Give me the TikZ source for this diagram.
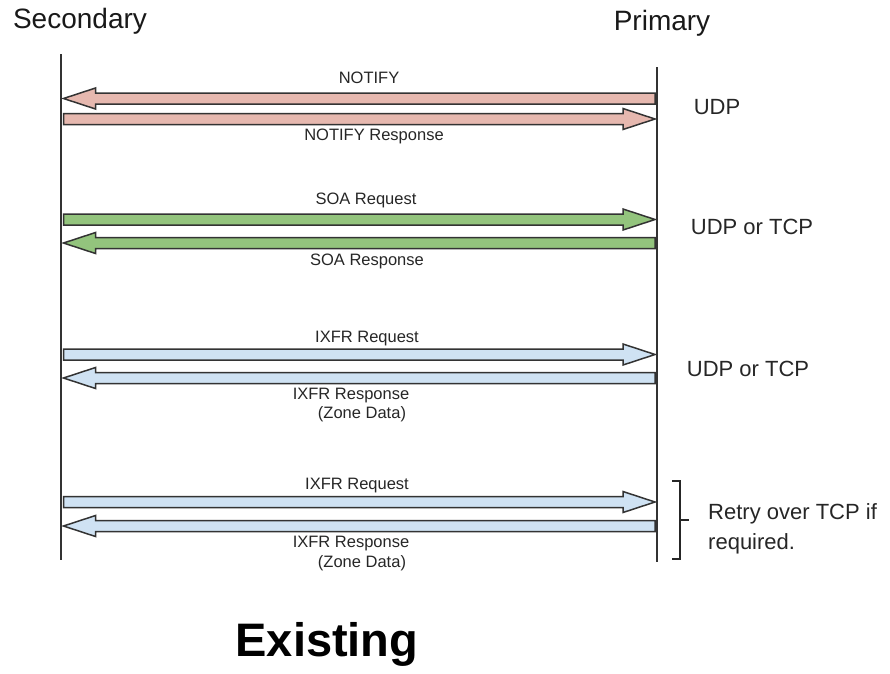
\documentclass[tikz,border=0pt]{standalone}
\usepackage{fontspec}
\setmainfont{Liberation Sans}
\usetikzlibrary{calc}

\definecolor{notifypink}{HTML}{E6B8AF}
\definecolor{soagreen}{HTML}{93C47D}
\definecolor{ixfrblue}{HTML}{CFE2F3}
\definecolor{edgegray}{HTML}{333333}

\tikzset{
  lifeline/.style={draw=edgegray,line width=1.4pt},
  msg/.style={draw=edgegray,line width=1.5pt,line join=miter},
  lbl/.style={font=\fontsize{16.5}{19}\selectfont,text=black!85,inner sep=0pt},
  side/.style={font=\fontsize{22}{26}\selectfont,text=black!85,inner sep=0pt},
  role/.style={font=\fontsize{28}{32}\selectfont,text=black!90,inner sep=0pt,anchor=base}
}

% block arrow between two points on the lifelines
\newcommand{\blockarrow}[3]{%
  \draw[msg,#1] let \p1=(#2), \p2=(#3), \n1={ifthenelse(\x2>\x1,1,-1)} in
    (\x1,\y1+5.5pt) -- (\x2-\n1*32pt,\y2+5.5pt) -- (\x2-\n1*32pt,\y2+10.5pt) -- (\x2,\y2)
    -- (\x2-\n1*32pt,\y2-10.5pt) -- (\x2-\n1*32pt,\y2-5.5pt) -- (\x1,\y1-5.5pt) -- cycle;}

\begin{document}
\begin{tikzpicture}[x=1pt,y=-1pt]
  \useasboundingbox (0,0) rectangle (890,673);

  % roles
  \node[role] (secondary) at (80,28) {Secondary};
  \node[role] (primary) at (662,30) {Primary};
  \coordinate (stop) at (61,54);
  \coordinate (sbot) at (61,560);
  \coordinate (ptop) at (657,67);
  \coordinate (pbot) at (657,562);
  \draw[lifeline] (stop) -- (sbot);
  \draw[lifeline] (ptop) -- (pbot);

  % message ends on the lifelines
  \foreach \i/\y in {1/98.5,2/119,3/219.5,4/243,5/354.5,6/378,7/502,8/526}{
    \coordinate (s\i) at (63.5,\y);
    \coordinate (p\i) at (655,\y);
  }

  % NOTIFY
  \blockarrow{fill=notifypink}{p1}{s1}
  \blockarrow{fill=notifypink}{s2}{p2}
  \node[lbl] (notify) at (369,78) {NOTIFY};
  \node[lbl] (notifyresp) at (374,136) {NOTIFY Response};
  \node[side] (udp) at (717,107) {UDP};

  % SOA
  \blockarrow{fill=soagreen}{s3}{p3}
  \blockarrow{fill=soagreen}{p4}{s4}
  \node[lbl] (soareq) at (366,200) {SOA Request};
  \node[lbl] (soaresp) at (367,261) {SOA Response};
  \node[side] (soaproto) at (752,227) {UDP or TCP};

  % IXFR
  \blockarrow{fill=ixfrblue}{s5}{p5}
  \blockarrow{fill=ixfrblue}{p6}{s6}
  \node[lbl] (ixfrreq) at (367,339) {IXFR Request};
  \node[lbl] (ixfrresp) at (351,396) {IXFR Response};
  \node[lbl] (ixfrdata) at (362,414) {(Zone Data)};
  \node[side] (ixfrproto) at (748,369) {UDP or TCP};

  % IXFR retry
  \blockarrow{fill=ixfrblue}{s7}{p7}
  \blockarrow{fill=ixfrblue}{p8}{s8}
  \node[lbl] (retryreq) at (357,486) {IXFR Request};
  \node[lbl] (retryresp) at (351,544) {IXFR Response};
  \node[lbl] (retrydata) at (362,563) {(Zone Data)};

  \draw[draw=black!85,line width=1.4pt] (672,481) -- (680,481) -- (680,559) -- (672,559)
    (680,520) -- (689,520);
  \node[side,align=left,anchor=west] (retry) at (708,529)
    {Retry over TCP if\\[4pt]required.};

  \node[font=\bfseries\fontsize{47}{52}\selectfont,inner sep=0pt] (existing) at (327,644) {Existing};
\end{tikzpicture}
\end{document}
